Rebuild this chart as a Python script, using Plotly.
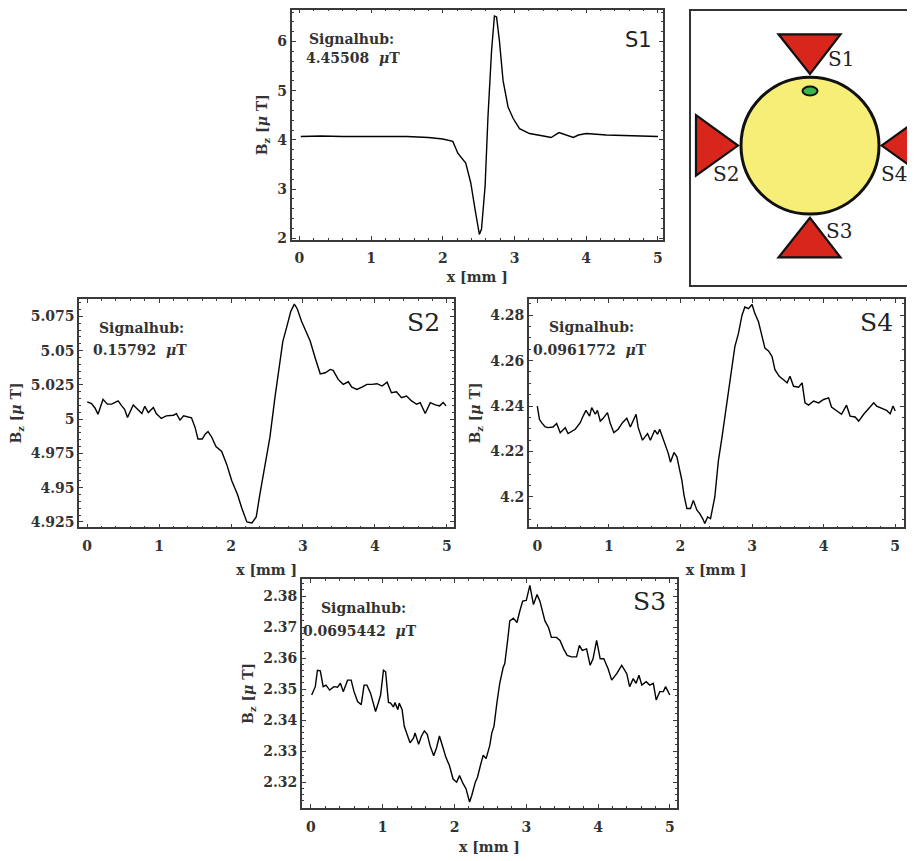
import plotly.graph_objects as go

# The page has an 8px body margin: the figure is drawn 8px in from the window edge.
OFF = 8
W, H = 915 - OFF, 861 - OFF

# ---------------- data ----------------
s1_x = [0.02, 0.3, 0.6, 1.0, 1.2, 1.5, 1.8, 2.0, 2.14, 2.21, 2.32, 2.39, 2.45, 2.51, 2.54,
        2.59, 2.63, 2.68, 2.72, 2.75, 2.79, 2.84, 2.91, 2.98, 3.07, 3.21, 3.44, 3.51, 3.62,
        3.70, 3.82, 3.89, 4.00, 4.28, 4.6, 5.0]
s1_y = [4.07, 4.08, 4.07, 4.07, 4.08, 4.07, 4.05, 4.02, 3.97, 3.73, 3.53, 3.13, 2.59, 2.08, 2.19,
        3.06, 4.47, 5.81, 6.52, 6.50, 6.01, 5.21, 4.67, 4.44, 4.23, 4.13, 4.07, 4.05, 4.15,
        4.11, 4.05, 4.10, 4.13, 4.10, 4.08, 4.07]

s2_x = [0.00, 0.06, 0.11, 0.15, 0.22, 0.28, 0.34, 0.43, 0.48, 0.52, 0.56, 0.64, 0.70, 0.76,
        0.80, 0.85, 0.92, 0.96, 1.03, 1.10, 1.20, 1.24, 1.29, 1.34, 1.45, 1.50, 1.54, 1.60,
        1.64, 1.68, 1.73, 1.79, 1.87, 1.94, 2.01, 2.09, 2.15, 2.22, 2.29, 2.35, 2.40, 2.47,
        2.54, 2.61, 2.66, 2.72, 2.77, 2.83, 2.88, 2.92, 2.98, 3.04, 3.10, 3.17, 3.24, 3.31,
        3.38, 3.42, 3.49, 3.56, 3.63, 3.68, 3.75, 3.82, 3.89, 3.96, 4.03, 4.10, 4.17, 4.23,
        4.30, 4.37, 4.44, 4.51, 4.58, 4.63, 4.70, 4.77, 4.84, 4.90, 4.95, 4.99]
s2_y = [5.0126, 5.0114, 5.0080, 5.0036, 5.0145, 5.0110, 5.0110, 5.0133, 5.0097, 5.0072,
        5.0012, 5.0104, 5.0072, 5.0041, 5.0094, 5.0048, 5.0085, 5.0041, 5.0005, 5.0024,
        5.0029, 5.0040, 4.9993, 5.0024, 5.0010, 4.9940, 4.9855, 4.9855, 4.9890, 4.9910,
        4.9870, 4.9800, 4.9765, 4.9670, 4.9550, 4.9450, 4.9350, 4.9250, 4.9243, 4.9286,
        4.9450, 4.9650, 4.9867, 5.0157, 5.0350, 5.0568, 5.0665, 5.0786, 5.0840, 5.0806,
        5.0714, 5.0641, 5.0570, 5.0447, 5.0331, 5.0339, 5.0363, 5.0356, 5.0290, 5.0254,
        5.0273, 5.0234, 5.0217, 5.0234, 5.0254, 5.0254, 5.0259, 5.0242, 5.0270, 5.0193,
        5.0200, 5.0157, 5.0169, 5.0133, 5.0109, 5.0121, 5.0041, 5.0121, 5.0104, 5.0097,
        5.0121, 5.0097]

s4_x = [0.00, 0.03, 0.06, 0.11, 0.15, 0.22, 0.27, 0.32, 0.39, 0.43, 0.53, 0.60, 0.64, 0.68,
        0.73, 0.76, 0.81, 0.84, 0.88, 0.92, 0.98, 1.02, 1.07, 1.13, 1.19, 1.25, 1.30, 1.34,
        1.38, 1.41, 1.47, 1.54, 1.58, 1.64, 1.68, 1.71, 1.75, 1.78, 1.83, 1.86, 1.91, 1.95,
        1.99, 2.02, 2.05, 2.09, 2.14, 2.18, 2.23, 2.27, 2.31, 2.34, 2.38, 2.42, 2.48, 2.53,
        2.58, 2.62, 2.67, 2.72, 2.76, 2.81, 2.86, 2.90, 2.95, 3.00, 3.04, 3.09, 3.14, 3.18,
        3.23, 3.28, 3.32, 3.38, 3.44, 3.49, 3.53, 3.58, 3.65, 3.70, 3.74, 3.79, 3.86, 3.93,
        4.00, 4.07, 4.11, 4.18, 4.25, 4.32, 4.37, 4.44, 4.49, 4.56, 4.63, 4.70, 4.74, 4.81,
        4.88, 4.93, 4.97, 5.00]
s4_y = [4.2400, 4.2342, 4.2327, 4.2308, 4.2305, 4.2308, 4.2323, 4.2283, 4.2305, 4.2279,
        4.2298, 4.2327, 4.2356, 4.2381, 4.2356, 4.2393, 4.2364, 4.2381, 4.2334, 4.2346,
        4.2371, 4.2323, 4.2283, 4.2298, 4.2327, 4.2346, 4.2308, 4.2334, 4.2364, 4.2305,
        4.2250, 4.2279, 4.2250, 4.2294, 4.2276, 4.2298, 4.2265, 4.2235, 4.2192, 4.2153,
        4.2196, 4.2177, 4.2119, 4.2073, 4.2007, 4.1949, 4.1949, 4.1985, 4.1942, 4.1927,
        4.1905, 4.1883, 4.1912, 4.1905, 4.2000, 4.2160, 4.2262, 4.2349, 4.2454, 4.2553,
        4.2662, 4.2720, 4.2800, 4.2836, 4.2829, 4.2847, 4.2807, 4.2771, 4.2713, 4.2655,
        4.2643, 4.2618, 4.2560, 4.2531, 4.2516, 4.2502, 4.2531, 4.2487, 4.2483, 4.2502,
        4.2414, 4.2404, 4.2422, 4.2414, 4.2429, 4.2436, 4.2396, 4.2381, 4.2364, 4.2404,
        4.2356, 4.2352, 4.2334, 4.2364, 4.2390, 4.2414, 4.2400, 4.2390, 4.2381, 4.2366,
        4.2400, 4.2378]

s3_x = [0.01, 0.06, 0.09, 0.13, 0.17, 0.21, 0.26, 0.32, 0.37, 0.41, 0.45, 0.51, 0.56, 0.60,
        0.65, 0.70, 0.74, 0.78, 0.83, 0.86, 0.90, 0.94, 0.97, 1.01, 1.04, 1.08, 1.11, 1.15,
        1.17, 1.21, 1.23, 1.27, 1.30, 1.34, 1.38, 1.43, 1.45, 1.50, 1.54, 1.58, 1.62, 1.66,
        1.71, 1.75, 1.79, 1.84, 1.88, 1.93, 1.98, 2.03, 2.07, 2.12, 2.16, 2.21, 2.24, 2.29,
        2.32, 2.36, 2.40, 2.44, 2.49, 2.52, 2.55, 2.59, 2.63, 2.68, 2.70, 2.74, 2.77, 2.82,
        2.87, 2.91, 2.95, 3.00, 3.03, 3.05, 3.10, 3.15, 3.19, 3.26, 3.31, 3.35, 3.42, 3.47,
        3.52, 3.57, 3.63, 3.70, 3.74, 3.78, 3.84, 3.89, 3.93, 3.98, 4.03, 4.08, 4.14, 4.19,
        4.26, 4.33, 4.40, 4.44, 4.49, 4.53, 4.57, 4.61, 4.67, 4.72, 4.77, 4.81, 4.86, 4.91,
        4.94, 5.00]
s3_y = [2.3481, 2.3508, 2.3561, 2.3559, 2.3508, 2.3513, 2.3497, 2.3508, 2.3506, 2.3519,
        2.3492, 2.3529, 2.3529, 2.3492, 2.3460, 2.3450, 2.3513, 2.3513, 2.3487, 2.3465,
        2.3428, 2.3457, 2.3481, 2.3561, 2.3556, 2.3457, 2.3455, 2.3442, 2.3457, 2.3434,
        2.3455, 2.3434, 2.3380, 2.3354, 2.3327, 2.3343, 2.3359, 2.3322, 2.3349, 2.3365,
        2.3354, 2.3317, 2.3285, 2.3311, 2.3349, 2.3311, 2.3280, 2.3253, 2.3210, 2.3200,
        2.3221, 2.3195, 2.3179, 2.3136, 2.3157, 2.3200, 2.3216, 2.3253, 2.3287, 2.3276,
        2.3317, 2.3359, 2.3380, 2.3455, 2.3519, 2.3572, 2.3582, 2.3657, 2.3720, 2.3729,
        2.3715, 2.3752, 2.3784, 2.3786, 2.3821, 2.3835, 2.3773, 2.3805, 2.3784, 2.3720,
        2.3699, 2.3667, 2.3667, 2.3657, 2.3630, 2.3609, 2.3604, 2.3604, 2.3641, 2.3625,
        2.3630, 2.3577, 2.3598, 2.3657, 2.3598, 2.3598, 2.3566, 2.3529, 2.3550, 2.3577,
        2.3550, 2.3508, 2.3534, 2.3519, 2.3545, 2.3513, 2.3524, 2.3513, 2.3519, 2.3465,
        2.3492, 2.3492, 2.3508, 2.3481]

x_ticks = [0, 1, 2, 3, 4, 5]
x_ticktext = ["0", "1", "2", "3", "4", "5"]
s1_yticks = [2, 3, 4, 5, 6]
s1_yticktext = ["2", "3", "4", "5", "6"]
s2_yticks = [4.925, 4.95, 4.975, 5.0, 5.025, 5.05, 5.075]
s2_yticktext = ["4.925", "4.95", "4.975", "5", "5.025", "5.05", "5.075"]
s4_yticks = [4.2, 4.22, 4.24, 4.26, 4.28]
s4_yticktext = ["4.2", "4.22", "4.24", "4.26", "4.28"]
s3_yticks = [2.32, 2.33, 2.34, 2.35, 2.36, 2.37, 2.38]
s3_yticktext = ["2.32", "2.33", "2.34", "2.35", "2.36", "2.37", "2.38"]

signalhub = {"S1": "4.45508", "S2": "0.15792", "S4": "0.0961772", "S3": "0.0695442"}

# ---------------- layout helpers (window pixels -> paper) ----------------
def px(x):
    return (x - OFF) / W

def py(y):
    return 1 - (y - OFF) / H

SERIF = "DejaVu Serif"
TXT = "#333333"
FRAME = "#3a3a3a"

# panel frames in window pixels: (left, top, right, bottom)
frames = {
    "S1": (291.7, 8.6, 663.0, 240.7),
    "S2": (79.3, 300.0, 454.0, 530.7),
    "S4": (529.0, 300.0, 903.5, 530.7),
    "S3": (302.0, 582.5, 677.0, 813.5),
}
xranges = {"S1": [-0.106, 5.07], "S2": [-0.11, 5.10], "S4": [-0.116, 5.116], "S3": [-0.125, 5.10]}
yranges = {"S1": [1.97, 6.65], "S2": [4.921, 5.088], "S4": [4.1866, 4.2873], "S3": [2.3117, 2.3856]}
yticks = {"S1": (s1_yticks, s1_yticktext, 0.2), "S2": (s2_yticks, s2_yticktext, 0.005),
          "S4": (s4_yticks, s4_yticktext, 0.005), "S3": (s3_yticks, s3_yticktext, 0.002)}
series = {"S1": (s1_x, s1_y), "S2": (s2_x, s2_y), "S4": (s4_x, s4_y), "S3": (s3_x, s3_y)}
order = ["S1", "S2", "S4", "S3"]
xtitle_standoff = {"S1": 7, "S2": 12, "S4": 12, "S3": 9}

fig = go.Figure()
tickfont = dict(family=SERIF, size=14, color=TXT, weight="bold")
titlefont = dict(family=SERIF, size=14, color=TXT, weight="bold")

for i, name in enumerate(order, start=1):
    suffix = "" if i == 1 else str(i)
    xs, ys = series[name]
    fig.add_trace(go.Scatter(x=xs, y=ys, mode="lines", line=dict(color="black", width=1.4),
                             xaxis="x" + suffix, yaxis="y" + suffix, showlegend=False,
                             name=name))
    l, t, r, b = frames[name]
    common = dict(showline=True, linecolor=FRAME, linewidth=1.8, mirror="allticks",
                  ticks="inside", ticklen=4, tickwidth=1, tickcolor=FRAME,
                  showgrid=False, zeroline=False, tickfont=tickfont, fixedrange=True)
    tv, tt, ymin = yticks[name]
    fig.update_layout(**{
        "xaxis" + suffix: dict(domain=[px(l), px(r)], range=xranges[name],
                               anchor="y" + suffix, tickvals=x_ticks, ticktext=x_ticktext,
                               ticklabelstandoff=5,
                               minor=dict(ticks="inside", ticklen=2, tickcolor=FRAME, dtick=0.2,
                                          tick0=0, showgrid=False),
                               title=dict(text="x [mm ]", font=titlefont,
                                          standoff=xtitle_standoff[name]),
                               **common),
        "yaxis" + suffix: dict(domain=[py(b), py(t)], range=yranges[name],
                               anchor="x" + suffix, tickvals=tv, ticktext=tt,
                               minor=dict(ticks="inside", ticklen=2, tickcolor=FRAME, dtick=ymin,
                                          tick0=tv[0], showgrid=False),
                               title=dict(text="B<sub>z</sub> [<i>μ</i> T]", font=titlefont,
                                          standoff=6),
                               **common),
    })

# Signalhub annotations (two lines) and panel labels (window-pixel centres)
hub_line1 = {"S1": (351.5, 38.5), "S2": (141, 330), "S4": (591, 329), "S3": (363, 611.7)}
hub_line2 = {"S1": (352.5, 57), "S2": (140, 351.7), "S4": (590, 351.7), "S3": (360, 635)}
lab_pos = {"S1": (638, 39), "S2": (423, 324), "S4": (876, 324), "S3": (649, 605)}
hubfont = dict(family=SERIF, size=14, color=TXT, weight="bold")
for name in order:
    x1, y1 = hub_line1[name]
    fig.add_annotation(x=px(x1), y=py(y1), xref="paper", yref="paper", showarrow=False,
                       text="Signalhub:", xanchor="center", yanchor="middle", font=hubfont)
    x2, y2 = hub_line2[name]
    fig.add_annotation(x=px(x2), y=py(y2), xref="paper", yref="paper", showarrow=False,
                       text=signalhub[name] + "  <i>μ</i>T", xanchor="center",
                       yanchor="middle", font=hubfont)
    lx, ly = lab_pos[name]
    if name == "S1":
        f = dict(family="DejaVu Sans", size=21, color="#222222")
    else:
        f = dict(family=SERIF, size=25, color="#222222")
    fig.add_annotation(x=px(lx), y=py(ly), xref="paper", yref="paper", showarrow=False,
                       text=name, xanchor="center", yanchor="middle", font=f)

# ---------------- sensor diagram (window-pixel geometry) ----------------
RED = "#D8261D"
YEL = "#F6EE76"
GRN = "#3BB54A"
shapes = []
shapes.append(dict(type="rect", xref="paper", yref="paper", x0=px(690), x1=px(930),
                   y0=py(287.3), y1=py(9), line=dict(color="#333333", width=2),
                   fillcolor="white", layer="below"))
cx, cy, rad = 810, 145.7, 69
shapes.append(dict(type="circle", xref="paper", yref="paper", x0=px(cx - rad), x1=px(cx + rad),
                   y0=py(cy + rad), y1=py(cy - rad), fillcolor=YEL,
                   line=dict(color="#111111", width=3)))
shapes.append(dict(type="circle", xref="paper", yref="paper", x0=px(802.5), x1=px(817.5),
                   y0=py(95.2), y1=py(86.2), fillcolor=GRN,
                   line=dict(color="#111111", width=2)))

def tri(pts):
    d = "M " + " L ".join(f"{px(x):.5f},{py(y):.5f}" for x, y in pts) + " Z"
    return dict(type="path", xref="paper", yref="paper", path=d, fillcolor=RED,
                line=dict(color="#111111", width=2.2))

shapes.append(tri([(778.5, 33.5), (840.5, 33.5), (810, 73.5)]))
shapes.append(tri([(810, 218.5), (778.5, 258.5), (840.5, 258.5)]))
shapes.append(tri([(696, 115), (696, 176), (738, 145.7)]))
shapes.append(tri([(924, 115), (924, 176), (881.7, 145.7)]))
fig.update_layout(shapes=shapes)

diag_labels = {"S1": (840.5, 58), "S2": (725.8, 174), "S4": (894, 174), "S3": (839, 231.5)}
for name, (lx, ly) in diag_labels.items():
    fig.add_annotation(x=px(lx), y=py(ly), xref="paper", yref="paper", showarrow=False,
                       text=name, xanchor="center", yanchor="middle",
                       font=dict(family=SERIF, size=20, color="#222222"))

fig.update_layout(width=W, height=H, margin=dict(l=0, r=0, t=0, b=0),
                  paper_bgcolor="white", plot_bgcolor="white", showlegend=False)

fig.write_html("out.html")
